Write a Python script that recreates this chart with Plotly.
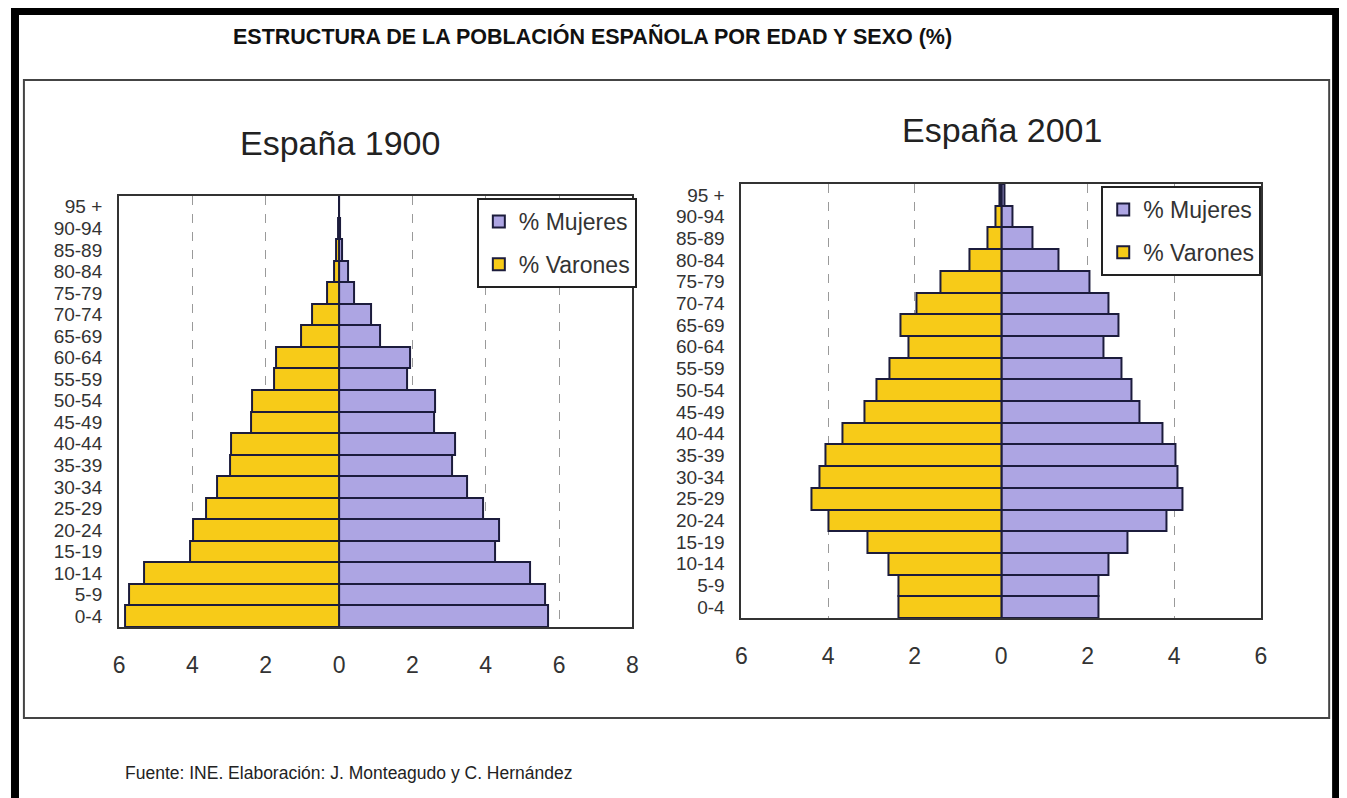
import plotly.graph_objects as go

# ---------------------------------------------------------------------------
# Data (percent of population)
# ---------------------------------------------------------------------------

AGES = ["0-4", "5-9", "10-14", "15-19", "20-24", "25-29", "30-34", "35-39",
        "40-44", "45-49", "50-54", "55-59", "60-64", "65-69", "70-74",
        "75-79", "80-84", "85-89", "90-94", "95 +"]

VARONES_1900 = [5.85, 5.74, 5.33, 4.06, 3.97, 3.63, 3.33, 2.96, 2.94, 2.41,
                2.38, 1.78, 1.73, 1.03, 0.74, 0.34, 0.13, 0.07, 0.02, 0.01]
MUJERES_1900 = [5.71, 5.62, 5.21, 4.25, 4.37, 3.92, 3.50, 3.08, 3.17, 2.58,
                2.62, 1.84, 1.93, 1.12, 0.86, 0.41, 0.25, 0.09, 0.02, 0.01]

VARONES_2001 = [2.37, 2.37, 2.60, 3.08, 3.99, 4.39, 4.19, 4.07, 3.67, 3.16,
                2.88, 2.59, 2.14, 2.33, 1.95, 1.40, 0.73, 0.32, 0.13, 0.04]
MUJERES_2001 = [2.26, 2.26, 2.47, 2.91, 3.81, 4.19, 4.07, 4.02, 3.72, 3.20,
                3.02, 2.77, 2.37, 2.71, 2.47, 2.03, 1.33, 0.73, 0.26, 0.07]

TICKS_1900 = [-6, -4, -2, 0, 2, 4, 6, 8]
TICKS_2001 = [-6, -4, -2, 0, 2, 4, 6]

# ---------------------------------------------------------------------------
# Style
# ---------------------------------------------------------------------------

W, H = 1347, 798
OFF = 8  # the page body adds an 8px margin, so positions are shifted back by it
YELLOW = "#F7CB18"
LAVENDER = "#ADA5E3"
OUTLINE = "#1c1c3c"
TEXT = "#2a2a2a"
FONT = "Liberation Sans, Arial, sans-serif"


def px_x(v):
    return (v - OFF) / W


def px_y(v):
    return 1 - (v - OFF) / H


fig = go.Figure()


def add_pyramid(mujeres, varones, xa, ya, legend):
    fig.add_trace(go.Bar(
        name="% Mujeres", y=AGES, x=mujeres, orientation="h",
        marker=dict(color=LAVENDER, line=dict(color=OUTLINE, width=2)),
        xaxis=xa, yaxis=ya, legend=legend, legendgroup="m" + legend,
    ))
    fig.add_trace(go.Bar(
        name="% Varones", y=AGES, x=[-v for v in varones], orientation="h",
        marker=dict(color=YELLOW, line=dict(color=OUTLINE, width=2)),
        xaxis=xa, yaxis=ya, legend=legend, legendgroup="v" + legend,
    ))


add_pyramid(MUJERES_1900, VARONES_1900, "x", "y", "legend")
add_pyramid(MUJERES_2001, VARONES_2001, "x2", "y2", "legend2")

common_x = dict(
    showline=True, mirror=True, linecolor="#333", linewidth=2,
    showgrid=True, griddash="dash", gridcolor="#9a9a9a", gridwidth=1,
    zeroline=True, zerolinecolor="#111", zerolinewidth=2,
    ticks="outside", ticklen=16, tickcolor="rgba(0,0,0,0)",
    tickfont=dict(family=FONT, size=23, color="#333"),
    fixedrange=True,
)
common_y = dict(
    type="category", categoryorder="array", categoryarray=AGES,
    tickmode="array", tickvals=AGES, ticktext=AGES,
    showline=True, mirror=True, linecolor="#333", linewidth=2,
    showgrid=False,
    ticks="outside", ticklen=11, tickcolor="rgba(0,0,0,0)",
    tickfont=dict(family=FONT, size=19, color="#333"),
    fixedrange=True,
)

fig.update_layout(
    xaxis=dict(common_x, domain=[px_x(114), px_x(632)], range=[-6, 8],
               tickvals=TICKS_1900, ticktext=[str(abs(t)) for t in TICKS_1900],
               anchor="y"),
    yaxis=dict(common_y, domain=[px_y(627), px_y(196)], anchor="x"),
    xaxis2=dict(common_x, domain=[px_x(742), px_x(1266)], range=[-6, 6],
                tickvals=TICKS_2001, ticktext=[str(abs(t)) for t in TICKS_2001],
                anchor="y2"),
    yaxis2=dict(common_y, domain=[px_y(618), px_y(184)], anchor="x2"),
    barmode="relative",
    bargap=0,
    width=W, height=H,
    margin=dict(l=0, r=0, t=0, b=0),
    paper_bgcolor="white",
    plot_bgcolor="white",
    font=dict(family=FONT, color=TEXT),
)

legend_style = dict(
    xanchor="left", yanchor="top",
    bgcolor="white", bordercolor="#222", borderwidth=2,
    font=dict(family=FONT, size=23, color="#333"),
    traceorder="grouped", tracegroupgap=10,
    itemclick=False, itemdoubleclick=False,
)
fig.update_layout(
    legend=dict(legend_style, x=px_x(475), y=px_y(198)),
    legend2=dict(legend_style, x=px_x(1105), y=px_y(186)),
)

# titles and source
fig.add_annotation(
    text="<b>ESTRUCTURA DE LA POBLACIÓN ESPAÑOLA POR EDAD Y SEXO (%)</b>",
    x=px_x(592), y=px_y(36), xref="paper", yref="paper",
    xanchor="center", yanchor="middle", showarrow=False,
    font=dict(family=FONT, size=21.5, color="#111"),
)
fig.add_annotation(
    text="España 1900", x=px_x(337), y=px_y(143), xref="paper", yref="paper",
    xanchor="center", yanchor="middle", showarrow=False,
    font=dict(family=FONT, size=34, color="#222"),
)
fig.add_annotation(
    text="España 2001", x=px_x(1005), y=px_y(130), xref="paper", yref="paper",
    xanchor="center", yanchor="middle", showarrow=False,
    font=dict(family=FONT, size=34, color="#222"),
)
fig.add_annotation(
    text="Fuente: INE. Elaboración: J. Monteagudo y C. Hernández",
    x=px_x(118), y=px_y(773), xref="paper", yref="paper",
    xanchor="left", yanchor="middle", showarrow=False,
    font=dict(family=FONT, size=17.5, color="#222"),
)

# inner frame around both charts and thick outer border
fig.add_shape(type="rect", xref="paper", yref="paper",
              x0=px_x(18), x1=px_x(1335), y0=px_y(718), y1=px_y(80),
              line=dict(color="#444", width=2))
fig.add_shape(type="rect", xref="paper", yref="paper",
              x0=px_x(9), x1=px_x(1342), y0=px_y(840), y1=px_y(11),
              line=dict(color="black", width=8))

fig.write_html("out.html")
